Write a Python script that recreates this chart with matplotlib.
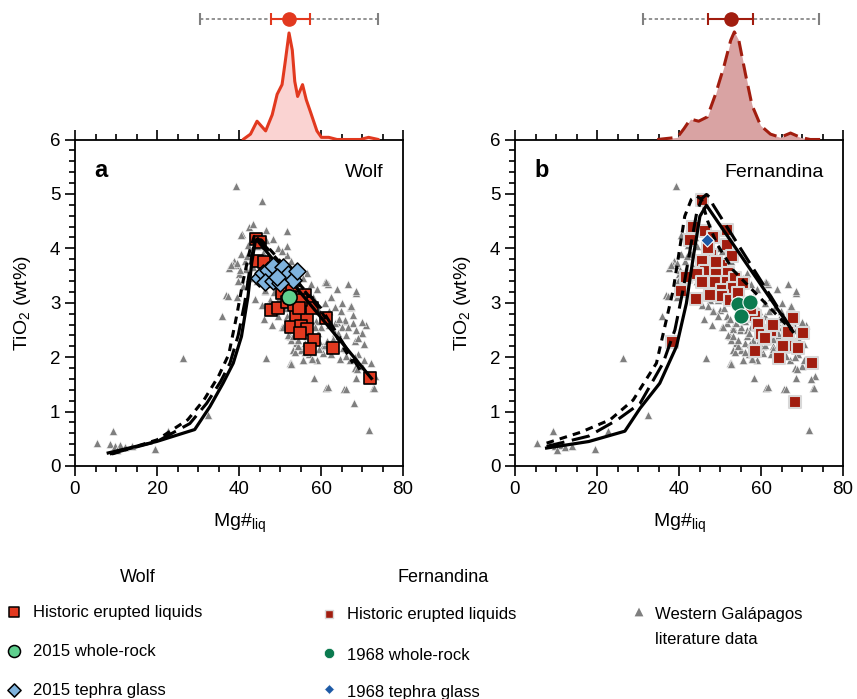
import matplotlib
matplotlib.use("Agg")
import matplotlib.pyplot as plt
import numpy as np

plt.rcParams['font.family'] = ['Liberation Sans', 'DejaVu Sans']
plt.rcParams['mathtext.fontset'] = 'custom'
plt.rcParams['mathtext.rm'] = 'Liberation Sans'
plt.rcParams['mathtext.it'] = 'Liberation Sans:italic'

# --- western Galapagos literature data (shared by both panels) ---
lit_mg = [5.4, 9.2, 8.5, 9.7, 11.0, 12.2, 13.8, 10.2, 19.5, 22.7, 26.4, 32.5, 39.3, 45.5,
          35.8, 36.9, 46.7, 51.8, 51.8, 60.9, 68.5, 58.2, 61.3, 65.6, 68.0, 71.6, 72.3, 72.7,
          68.6, 52.4, 55.5, 59.0, 70.0, 67.4, 73.1, 69.9, 68.4,
          42.4, 40.8, 46.5, 48.3, 40.4, 38.8, 37.6, 39.6, 40.0, 42.1, 41.4, 51.6, 52.8, 41.8,
          43.5, 44.0, 38.6, 39.8, 41.0, 42.5, 43.0, 43.9, 46.3, 44.8,
          48.3, 50.0, 51.6, 53.2, 54.8, 56.5, 52.4, 54.0, 56.1, 58.1, 53.2, 55.2, 58.1, 60.5,
          62.9, 61.8, 65.0, 67.0, 65.8, 63.4, 67.3, 64.8, 67.8, 65.8, 63.8, 67.8, 69.9, 68.2,
          66.2, 64.2, 64.6, 52.6, 55.6, 57.7, 53.6, 54.4, 60.5, 60.9, 59.3, 52.8, 52.0, 51.6,
          58.5, 60.9, 58.9, 57.0, 55.0, 49.5, 50.5, 62.0, 63.5, 61.0, 66.0, 69.0, 70.5, 71.0,
          57.0, 59.5, 62.5, 67.0, 47.5, 49.0, 53.5, 55.5, 48.0, 46.0, 45.5, 44.5, 47.0, 50.0,
          54.5, 56.5, 46.0, 49.5, 58.0, 62.5, 64.0, 66.5, 60.0, 57.5, 65.0, 68.5, 70.5,
          47.0, 48.3, 50.8, 53.2, 55.2, 53.2, 54.4, 56.5, 57.3, 56.0, 52.6, 57.8, 61.7, 66.0,
          68.8, 72.3, 72.9, 67.4, 62.9, 66.2, 68.2, 56.0, 63.4, 64.2, 65.4, 37.2, 39.6, 40.6,
          39.4, 38.0, 40.2, 46.3, 45.9, 61.3, 68.6, 49.5, 51.0, 52.5, 54.0, 57.0, 58.5, 59.5,
          61.5, 63.0, 64.5, 66.5, 69.0, 70.0, 62.0, 59.5, 57.5, 55.0, 52.5, 50.0, 48.5, 47.0,
          45.5, 43.5, 42.0, 44.5, 46.5, 48.5, 50.5, 53.0, 55.5, 57.5, 59.0]
lit_ti = [0.42, 0.65, 0.40, 0.36, 0.38, 0.35, 0.36, 0.30, 0.32, 0.65, 1.98, 0.94, 5.14, 4.87,
          2.75, 3.15, 1.99, 4.31, 4.04, 3.38, 3.18, 1.61, 1.44, 1.41, 1.15, 0.67, 1.89, 1.44,
          1.61, 1.89, 1.95, 1.95, 2.44, 2.93, 1.66, 1.83, 1.80,
          4.39, 4.26, 4.33, 4.18, 3.90, 3.76, 3.64, 3.70, 3.52, 4.07, 3.76, 3.88, 3.76, 3.62,
          4.45, 4.20, 3.70, 3.40, 3.30, 3.45, 3.90, 3.07, 3.22, 3.80,
          2.87, 2.87, 2.75, 2.56, 2.50, 2.50, 2.38, 2.26, 2.26, 2.32, 2.13, 2.13, 2.09, 2.20,
          2.20, 3.35, 2.99, 2.93, 2.67, 2.92, 2.94, 2.84, 2.78, 2.69, 2.64, 2.63, 2.44, 2.29,
          2.41, 2.38, 1.96, 1.89, 1.95, 1.98, 2.10, 2.20, 2.07, 2.23, 2.44, 2.32, 2.41, 2.63,
          2.96, 2.99, 2.66, 2.80, 2.70, 3.05, 2.55, 2.60, 2.45, 2.75, 2.15, 2.05, 2.25, 2.60,
          2.05, 2.30, 2.05, 1.95, 3.05, 3.35, 3.05, 2.95, 2.60, 2.70, 2.95, 3.40, 3.60, 3.60,
          3.40, 3.55, 4.05, 4.00, 3.10, 3.10, 3.25, 3.35, 2.55, 2.55, 2.55, 2.50, 1.95,
          2.94, 2.84, 2.56, 2.52, 2.56, 2.38, 2.31, 2.38, 2.25, 2.10, 1.88, 1.97, 1.45, 1.41,
          1.79, 1.60, 1.43, 2.94, 2.33, 2.02, 2.01, 2.66, 2.63, 2.44, 2.17, 3.12, 3.10, 4.25,
          3.73, 3.70, 3.61, 3.24, 3.91, 3.39, 3.21, 2.75, 2.90, 2.70, 2.62, 2.45, 2.55, 2.15,
          2.30, 2.15, 2.70, 2.55, 2.35, 2.65, 2.85, 2.85, 3.05, 3.20, 3.25, 3.15, 3.20, 3.35,
          3.55, 3.65, 3.85, 4.05, 4.15, 3.80, 3.95, 3.60, 3.45, 3.35, 3.25]

# --- Wolf ---
wolf_liq_mg = [44.1, 45.0, 44.3, 46.1, 47.8, 49.5, 50.4, 51.6, 53.0, 52.5, 54.0, 56.5, 56.0,
               56.5, 57.7, 61.3, 52.8, 55.2, 56.5, 54.8, 58.3, 57.3, 62.9, 71.9, 53.5, 55.0, 54.6]
wolf_liq_ti = [4.17, 4.12, 3.76, 3.74, 2.86, 2.90, 3.18, 3.02, 3.30, 3.10, 2.76, 2.72, 3.15,
               3.00, 2.90, 2.72, 2.56, 2.58, 2.52, 2.45, 2.31, 2.15, 2.17, 1.61, 2.95, 3.05, 2.90]
wolf_glass_mg = [44.8, 45.8, 47.0, 48.3, 46.4, 48.3, 50.0, 50.8, 52.0, 53.2, 54.2, 50.0, 49.2]
wolf_glass_ti = [3.45, 3.55, 3.60, 3.67, 3.38, 3.40, 3.52, 3.65, 3.52, 3.42, 3.58, 3.36, 3.48]
wolf_wr_mg = [52.2]
wolf_wr_ti = [3.10]

# --- Fernandina ---
fern_liq_mg = [45.7, 43.4, 42.6, 46.3, 48.3, 51.6, 51.8, 47.9, 45.5, 50.4, 46.3, 49.1, 52.0,
               41.8, 44.5, 45.5, 48.7, 51.6, 53.6, 50.4, 53.2, 55.6, 40.6, 44.1, 47.5, 50.4,
               52.4, 54.5, 55.5, 56.0, 58.5, 57.5, 59.3, 60.1, 62.4, 67.8, 70.2, 66.6, 67.4,
               65.4, 69.0, 58.5, 64.3, 72.5, 68.2, 38.3, 61.0, 63.0, 49.0, 47.0, 53.0]
fern_liq_ti = [4.88, 4.40, 4.16, 4.32, 4.20, 4.07, 4.34, 3.88, 3.76, 3.70, 3.58, 3.58, 3.55,
               3.48, 3.52, 3.39, 3.39, 3.39, 3.45, 3.24, 3.27, 3.36, 3.21, 3.07, 3.15, 3.13,
               3.05, 3.18, 3.00, 2.75, 2.75, 2.88, 2.61, 2.42, 2.49, 2.72, 2.45, 2.47, 2.20,
               2.20, 2.17, 2.12, 1.98, 1.90, 1.17, 2.28, 2.35, 2.60, 3.75, 4.00, 3.85]
fern_wr_mg = [54.3, 57.4, 55.0]
fern_wr_ti = [2.98, 3.01, 2.76]
fern_glass_mg = [46.9]
fern_glass_ti = [4.16]

# --- liquid lines of descent (three models per volcano) ---
wolf_solid_mg = [8.1, 19.9, 29.2, 32.9, 36.1, 38.6, 40.6, 42.2, 43.1, 43.9, 44.3, 72.3]
wolf_solid_ti = [0.24, 0.45, 0.67, 1.09, 1.52, 1.89, 2.38, 3.12, 3.73, 4.10, 4.16, 1.61]
wolf_long_mg = [8.5, 20.0, 28.0, 32.1, 35.5, 37.8, 39.8, 41.4, 42.8, 43.8, 44.6, 47.5, 60.0, 69.5]
wolf_long_ti = [0.22, 0.45, 0.78, 1.15, 1.55, 1.89, 2.40, 3.00, 3.70, 4.12, 4.18, 3.95, 2.90, 1.77]
wolf_short_mg = [9.0, 20.0, 27.5, 31.5, 35.0, 37.5, 39.4, 41.0, 42.6, 43.7, 45.5, 49.1, 60.0, 67.8]
wolf_short_ti = [0.22, 0.48, 0.85, 1.22, 1.65, 2.05, 2.75, 3.40, 3.95, 4.22, 4.15, 3.85, 2.85, 1.89]

fern_solid_mg = [7.7, 18.0, 26.8, 30.5, 35.3, 39.4, 41.8, 43.5, 45.1, 46.7, 67.8]
fern_solid_ti = [0.33, 0.45, 0.64, 1.06, 1.52, 2.20, 2.99, 3.85, 4.59, 4.79, 2.47]
fern_long_mg = [7.7, 18.0, 25.0, 30.5, 36.1, 39.0, 41.0, 43.0, 44.3, 45.6, 46.7, 47.6, 48.3, 67.8]
fern_long_ti = [0.36, 0.55, 0.85, 1.15, 1.89, 2.50, 3.24, 4.10, 4.65, 4.92, 4.99, 4.93, 4.80, 2.47]
fern_short_mg = [7.7, 16.0, 23.2, 28.8, 34.5, 38.6, 41.4, 43.0, 44.3, 45.5, 47.0, 49.1, 53.2, 67.8]
fern_short_ti = [0.42, 0.62, 0.85, 1.21, 1.89, 3.24, 4.59, 4.90, 4.96, 4.90, 4.50, 4.10, 3.60, 2.47]

# --- Mg# distributions (relative density) and summary bars ---
wolf_kde_mg = [41.0, 42.8, 44.4, 46.5, 48.1, 49.3, 50.5, 51.3, 52.2, 53.0, 53.6, 54.3,
               55.5, 56.4, 57.4, 59.0, 60.1, 61.9, 63.9, 69.6, 71.6, 74.0]
wolf_kde_d = [0.0, 0.05, 0.17, 0.08, 0.23, 0.42, 0.51, 0.73, 0.99, 0.83, 0.54, 0.40,
              0.51, 0.37, 0.26, 0.08, 0.02, 0.02, 0.0, 0.0, 0.02, 0.0]
fern_kde_mg = [34.7, 39.6, 41.2, 42.8, 44.8, 46.9, 48.9, 50.9, 52.6, 53.5, 54.6, 56.2, 57.8,
               59.9, 62.3, 64.7, 67.2, 69.6, 72.0, 75.3]
fern_kde_d = [0.0, 0.02, 0.10, 0.19, 0.17, 0.21, 0.42, 0.67, 0.92, 1.0, 0.92, 0.61, 0.32,
              0.13, 0.05, 0.02, 0.06, 0.02, 0.0, 0.0]
wolf_range = [30.6, 74.0]
wolf_sd = [47.7, 57.2]
wolf_mean = 52.3
fern_range = [31.1, 74.2]
fern_sd = [47.1, 58.1]
fern_mean = 52.6

W, H = 857, 699
fig = plt.figure(figsize=(W / 100, H / 100), dpi=100)


def frac(x0, y0, x1, y1):
    return [x0 / W, 1 - y1 / H, (x1 - x0) / W, (y1 - y0) / H]


def style_main(ax):
    ax.set_xlim(0, 80)
    ax.set_ylim(0, 6)
    ax.set_xticks([0, 20, 40, 60, 80])
    ax.set_xticks(np.arange(0, 81, 5), minor=True)
    ax.set_yticks(range(7))
    ax.set_yticks(np.arange(0, 6.01, 0.2), minor=True)
    ax.tick_params(which='both', direction='out', top=True, right=False, width=1.2,
                   labelsize=13.5, colors='black')
    ax.tick_params(which='major', length=7)
    ax.tick_params(which='minor', length=4.5)
    for s in ax.spines.values():
        s.set_linewidth(1.3)
    ax.set_xlabel(r'Mg#$_{\rm liq}$', fontsize=14, labelpad=10)
    ax.set_ylabel(r'TiO$_2$ (wt%)', fontsize=14, labelpad=12)


def draw_kde(ax, mg, d, rng, sd, mean, fill, line, ls):
    ax.fill_between(mg, 0, d, color=fill, lw=0, zorder=1)
    ax.plot(mg, d, color=line, lw=2.2, ls=ls, zorder=2, solid_capstyle='round')
    yb = 1.12
    ax.errorbar([mean], [yb], xerr=[[mean - rng[0]], [rng[1] - mean]], fmt='none',
                ecolor='#808080', elinewidth=0, capsize=4, capthick=1.5, zorder=3)
    ax.plot(rng, [yb, yb], color='#808080', lw=1.2, ls=(0, (2, 1.5)), zorder=3)
    ax.errorbar([mean], [yb], xerr=[[mean - sd[0]], [sd[1] - mean]], fmt='o',
                color=line, ms=9.5, elinewidth=1.5, capsize=4, capthick=1.5, zorder=4)
    ax.set_xlim(0, 80)
    ax.set_ylim(0, 1.25)
    ax.axis('off')


def draw_models(ax, solid, long, short):
    ax.plot(*solid, color='black', lw=2.3, zorder=4)
    ax.plot(*long, color='black', lw=2.2, ls=(0, (6, 2.5)), zorder=4)
    ax.plot(*short, color='black', lw=2.2, ls=(0, (2.5, 2)), zorder=4)


wolf_red = '#e2391f'
fern_red = '#a11d0f'

# Panel a: Wolf
axa = fig.add_axes(frac(75, 139.5, 403, 466))
axa.scatter(lit_mg, lit_ti, marker='^', s=34, color='#7f7f7f', edgecolors='white',
            linewidths=0.4, zorder=1)
axa.scatter(wolf_liq_mg, wolf_liq_ti, marker='s', s=85, color=wolf_red,
            edgecolors='black', linewidths=1.2, zorder=3)
draw_models(axa, (wolf_solid_mg, wolf_solid_ti), (wolf_long_mg, wolf_long_ti),
            (wolf_short_mg, wolf_short_ti))
axa.scatter(wolf_glass_mg, wolf_glass_ti, marker='D', s=75, color='#7fb3de',
            edgecolors='black', linewidths=1.1, zorder=5)
axa.scatter(wolf_wr_mg, wolf_wr_ti, marker='o', s=120, color='#5fcf8e',
            edgecolors='black', linewidths=1.2, zorder=6)
axa.text(0.06, 0.94, 'a', transform=axa.transAxes, fontsize=17, fontweight='bold',
         va='top', ha='left')
axa.text(0.94, 0.925, 'Wolf', transform=axa.transAxes, fontsize=14, va='top', ha='right')
style_main(axa)

# Panel b: Fernandina
axb = fig.add_axes(frac(515, 139.5, 843, 466))
axb.scatter(lit_mg, lit_ti, marker='^', s=34, color='#7f7f7f', edgecolors='white',
            linewidths=0.4, zorder=1)
axb.scatter(fern_liq_mg, fern_liq_ti, marker='s', s=70, color=fern_red,
            edgecolors='#d8d8d8', linewidths=1.5, zorder=3)
draw_models(axb, (fern_solid_mg, fern_solid_ti), (fern_long_mg, fern_long_ti),
            (fern_short_mg, fern_short_ti))
axb.scatter(fern_glass_mg, fern_glass_ti, marker='D', s=45, color='#1d5aa6',
            edgecolors='white', linewidths=0.8, zorder=5)
axb.scatter(fern_wr_mg, fern_wr_ti, marker='o', s=120, color='#0b7a4f',
            edgecolors='white', linewidths=0.8, zorder=6)
axb.text(0.06, 0.94, 'b', transform=axb.transAxes, fontsize=17, fontweight='bold',
         va='top', ha='left')
axb.text(0.94, 0.925, 'Fernandina', transform=axb.transAxes, fontsize=14, va='top',
         ha='right')
style_main(axb)

# Mg# distributions above each panel
kda = fig.add_axes(frac(75, 5, 403, 139.5))
draw_kde(kda, wolf_kde_mg, wolf_kde_d, wolf_range, wolf_sd, wolf_mean,
         '#fad3d2', wolf_red, '-')
kdb = fig.add_axes(frac(515, 5, 843, 139.5))
draw_kde(kdb, fern_kde_mg, fern_kde_d, fern_range, fern_sd, fern_mean,
         '#d9a3a3', fern_red, (0, (5, 2.5)))

# Legend block
lg = fig.add_axes([0, 0, 1, 1], zorder=-1)
lg.set_xlim(0, W)
lg.set_ylim(H, 0)
lg.axis('off')
lg.text(138, 578, 'Wolf', fontsize=13, ha='center', va='center')
lg.text(443, 578, 'Fernandina', fontsize=13, ha='center', va='center')
lg.scatter([14], [612], marker='s', s=55, color=wolf_red, edgecolors='black', linewidths=1.1)
lg.scatter([14], [651], marker='o', s=75, color='#5fcf8e', edgecolors='black', linewidths=1.1)
lg.scatter([14], [690], marker='D', s=45, color='#7fb3de', edgecolors='black', linewidths=1.1)
lg.text(33, 613, 'Historic erupted liquids', fontsize=12, va='center')
lg.text(33, 652, '2015 whole-rock', fontsize=12, va='center')
lg.text(33, 691, '2015 tephra glass', fontsize=12, va='center')
lg.scatter([329], [614], marker='s', s=30, color=fern_red, edgecolors='#d8d8d8', linewidths=1)
lg.scatter([329], [653], marker='o', s=55, color='#0b7a4f', edgecolors='white', linewidths=0.5)
lg.scatter([329], [689], marker='D', s=25, color='#1d5aa6', edgecolors='white', linewidths=0.5)
lg.text(347, 614, 'Historic erupted liquids', fontsize=12, va='center')
lg.text(347, 656, '1968 whole-rock', fontsize=12, va='center')
lg.text(347, 692, '1968 tephra glass', fontsize=12, va='center')
lg.scatter([639], [612], marker='^', s=40, color='#7f7f7f', edgecolors='none')
lg.text(655, 615, 'Western Galápagos', fontsize=12, va='center')
lg.text(655, 639, 'literature data', fontsize=12, va='center')

fig.savefig('out.png', dpi=100)
